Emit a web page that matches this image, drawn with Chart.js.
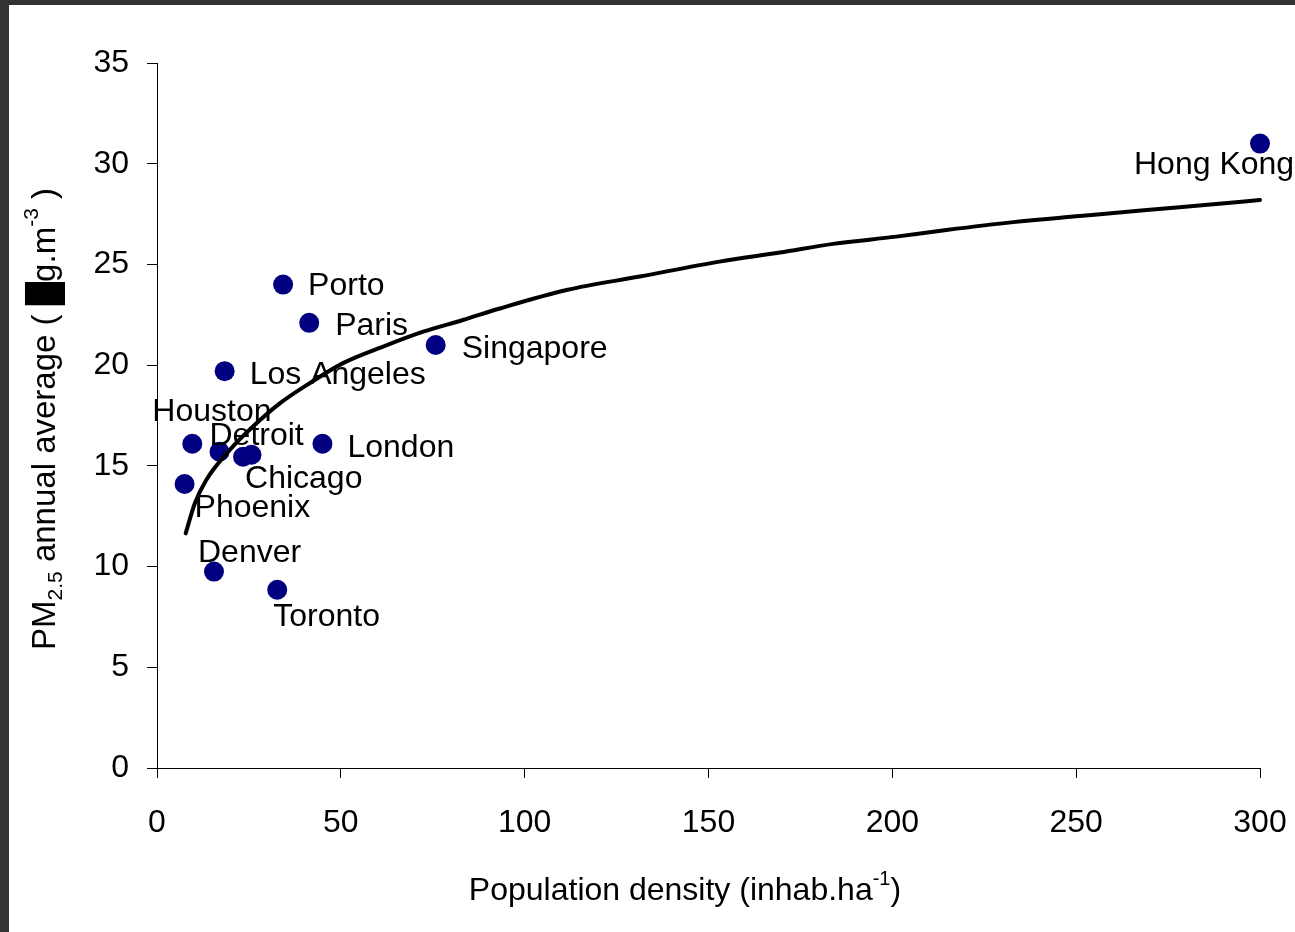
<!DOCTYPE html>
<html>
<head>
<meta charset="utf-8">
<script src="https://cdn.jsdelivr.net/npm/chart.js@4.4.0/dist/chart.umd.min.js"></script>
<style>
  html, body { margin: 0; padding: 0; background: #333; overflow: hidden; }
  #frame { position: absolute; left: 9px; top: 5px; width: 1286px; height: 927px; background: #fff; }
</style>
</head>
<body>
<div id="frame"><canvas id="pmChart" width="1286" height="927"></canvas></div>
<script>
// --- DATA ---
const cities  = ['Hong Kong', 'Porto', 'Paris', 'Singapore', 'Los Angeles', 'Houston', 'Detroit', 'Chicago', '', 'London', 'Phoenix', 'Denver', 'Toronto'];
const density = [300, 34.3, 41.4, 75.8, 18.4, 9.6, 17.0, 23.4, 25.7, 45.0, 7.5, 15.5, 32.7];
const pm25    = [31.0, 24.0, 22.1, 21.0, 19.7, 16.1, 15.7, 15.45, 15.55, 16.1, 14.1, 9.75, 8.85];

// fitted curve
const fitDensity = [7.8, 10.3, 13.4, 19.8, 26.1, 33.4, 41.5, 50.6, 61.5, 72.4, 83.2, 93, 111.4, 131.3, 153, 169.4, 183.9, 201.1, 214.7, 232.9, 251, 269.2, 287.3, 300];
const fitPm      = [11.65, 13.14, 14.3, 15.79, 16.95, 18.1, 19.1, 20.1, 20.92, 21.66, 22.24, 22.8, 23.73, 24.4, 25.14, 25.59, 26.02, 26.38, 26.71, 27.1, 27.4, 27.7, 27.99, 28.2];

const xTicks = [0, 50, 100, 150, 200, 250, 300];
const yTicks = [0, 5, 10, 15, 20, 25, 30, 35];

// label placement (px from the marker: left edge of text, vertical middle)
const labelOffsets = {
  'Hong Kong': [-126, 22], 'Porto': [25, 2], 'Paris': [26, 3], 'Singapore': [26, 4],
  'Los Angeles': [25, 4], 'Houston': [-40, -32], 'Detroit': [-10, -16], 'Chicago': [2, 22],
  'London': [25, 4], 'Phoenix': [10, 24], 'Denver': [-16, -18], 'Toronto': [-4, 27]
};

const FONT = '"Liberation Sans", Arial, sans-serif';

// draw text pieces with sub/superscripts, centred on x
function drawRuns(ctx, runs, x, y) {
  const widths = runs.map(r => { ctx.font = r.size + 'px ' + FONT; return ctx.measureText(r.text).width; });
  let cx = x - widths.reduce((a, b) => a + b, 0) / 2;
  runs.forEach((r, i) => {
    ctx.font = r.size + 'px ' + FONT;
    ctx.fillText(r.text, cx, y + (r.shift || 0));
    cx += widths[i];
  });
}

const annotate = {
  id: 'annotate',
  afterDatasetsDraw(chart) {
    const ctx = chart.ctx;
    const meta = chart.getDatasetMeta(1);
    ctx.save();
    ctx.font = '32px ' + FONT;
    ctx.fillStyle = '#000';
    ctx.textBaseline = 'middle';
    meta.data.forEach((pt, i) => {
      const name = cities[i];
      if (!name) return;
      const off = labelOffsets[name];
      ctx.fillText(name, pt.x + off[0], pt.y + off[1]);
    });
    ctx.restore();
  },
  afterDraw(chart) {
    const ctx = chart.ctx;
    ctx.save();
    ctx.fillStyle = '#000';
    ctx.textBaseline = 'alphabetic';
    // x title
    drawRuns(ctx, [
      { text: 'Population density (inhab.ha', size: 32 },
      { text: '-1', size: 20, shift: -15 },
      { text: ')', size: 32 }
    ], 676, 895);
    // y title
    ctx.translate(46, 414);
    ctx.rotate(-Math.PI / 2);
    drawRuns(ctx, [
      { text: 'PM', size: 33 },
      { text: '2.5', size: 21, shift: 7 },
      { text: ' annual average ( \u2588g.m', size: 33 },
      { text: '-3', size: 21, shift: -17 },
      { text: ' )', size: 33 }
    ], 0, 0);
    ctx.restore();
  }
};

// --- CHART ---
window.addEventListener('DOMContentLoaded', () => {
  const ctx = document.getElementById('pmChart').getContext('2d');
  new Chart(ctx, {
    type: 'scatter',
    data: {
      datasets: [
        {
          type: 'line',
          label: 'Fit',
          data: fitDensity.map((x, i) => ({ x, y: fitPm[i] })),
          borderColor: '#000',
          borderWidth: 4,
          borderCapStyle: 'round',
          borderJoinStyle: 'round',
          pointRadius: 0,
          cubicInterpolationMode: 'monotone',
          fill: false,
          clip: false
        },
        {
          label: 'Cities',
          data: density.map((x, i) => ({ x, y: pm25[i] })),
          backgroundColor: '#000080',
          borderWidth: 0,
          pointRadius: 10,
          pointHoverRadius: 10,
          clip: false
        }
      ]
    },
    options: {
      responsive: false,
      animation: false,
      events: [],
      layout: { padding: { top: 58, right: 35, left: 0, bottom: 0 } },
      plugins: { legend: { display: false }, tooltip: { enabled: false } },
      scales: {
        x: {
          type: 'linear', min: 0, max: 300,
          afterBuildTicks: s => { s.ticks = xTicks.map(v => ({ value: v })); },
          afterFit: s => { s.height = 164; s.paddingLeft = 0; s.paddingRight = 0; },
          ticks: { color: '#000', font: { family: FONT, size: 32 }, padding: 26, maxRotation: 0 },
          grid: { drawOnChartArea: false, tickLength: 10, tickColor: '#000' },
          border: { color: '#000', width: 1 }
        },
        y: {
          type: 'linear', min: 0, max: 35,
          afterBuildTicks: s => { s.ticks = yTicks.map(v => ({ value: v })); },
          afterFit: s => { s.width = 148; s.paddingTop = 0; s.paddingBottom = 0; },
          ticks: { color: '#000', font: { family: FONT, size: 32 }, padding: 18 },
          grid: { drawOnChartArea: false, tickLength: 10, tickColor: '#000' },
          border: { color: '#000', width: 1 }
        }
      }
    },
    plugins: [annotate]
  });
});
</script>
</body>
</html>
